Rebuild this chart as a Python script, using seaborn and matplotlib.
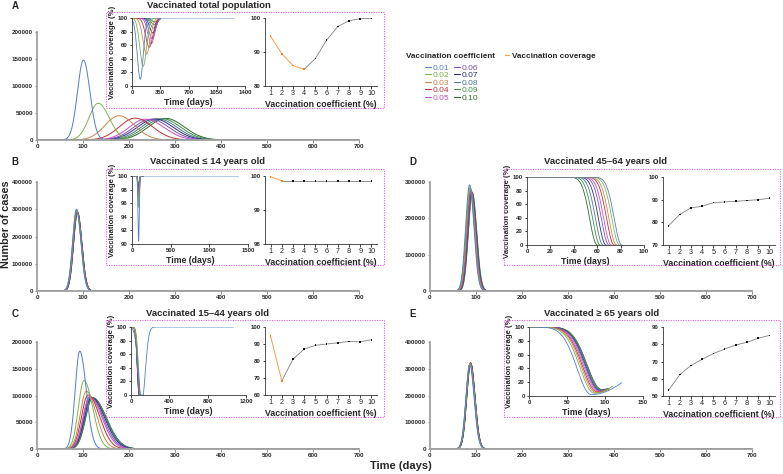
import numpy as np
import pandas as pd
import matplotlib.pyplot as plt
import seaborn as sns
from matplotlib.patches import Rectangle
from matplotlib.lines import Line2D
from matplotlib.ticker import FuncFormatter

sns.set_theme(style="ticks")
plt.rcParams["font.family"] = ["Liberation Sans", "DejaVu Sans"]

W, H = 783, 474

# 疫苗接种系数与配色
COEFS = ["0.01", "0.02", "0.03", "0.04", "0.05", "0.06", "0.07", "0.08", "0.09", "0.10"]
COLORS = ["#4f7fc8", "#7fb24a", "#c8874a", "#b8333a", "#c050c8",
          "#7a52b5", "#2e2e7a", "#4d7a8f", "#3e8f4e", "#2d6b2d"]
ORANGE = "#f4a040"
COEF_PCT = [1, 2, 3, 4, 5, 6, 7, 8, 9, 10]

# ---- 主图: 病例曲线 (峰值日, 峰值病例数, 上升/下降宽度)
A_PEAK_DAY = [101, 133, 178, 213, 236, 247, 256, 264, 272, 280]
A_PEAK_CASES = [148000, 68000, 45000, 40500, 38500, 38500, 39000, 39000, 39500, 40000]
A_RISE = [13, 20, 30, 34, 36, 37, 38, 38, 38, 38]
A_FALL = [14, 24, 34, 38, 40, 40, 40, 40, 40, 40]

B_PEAK_DAY = [86, 86, 86.5, 87, 87, 87.5, 87.5, 88, 88, 88]
B_PEAK_CASES = [300000, 297000, 295000, 293000, 292000, 291000, 290000, 290000, 289000, 289000]
B_RISE = [8.5] * 10
B_FALL = [9.5] * 10

C_PEAK_DAY = [93, 102, 107, 111, 114, 116, 118, 119, 120, 121]
C_PEAK_CASES = [183000, 128000, 108000, 101000, 98000, 97000, 96500, 96000, 96000, 96000]
C_RISE = [10, 12, 13, 14, 14, 15, 15, 15, 15, 15]
C_FALL = [14, 19, 22, 25, 27, 28, 29, 30, 30, 30]

D_PEAK_DAY = [86, 87, 88, 88.5, 89, 90, 90.5, 91, 91.5, 92]
D_PEAK_CASES = [292000, 285000, 282000, 278000, 276000, 274000, 273000, 272000, 271000, 270000]
D_RISE = [8.5] * 10
D_FALL = [9.5] * 10

E_PEAK_DAY = [86.5, 87, 87, 87.5, 87.5, 88, 88, 88, 88.5, 88.5]
E_PEAK_CASES = [315000, 318000, 320000, 321000, 321000, 322000, 322000, 322000, 321000, 321000]
E_RISE = [8.5] * 10
E_FALL = [9.5] * 10

# ---- 左侧小图: 接种覆盖率低谷 (低谷日, 最低值, 左/右宽度, 结束日)
A_DIP_DAY = [102, 138, 180, 213, 238, 248, 257, 265, 272, 280]
A_DIP_LOW = [10, 29, 47, 57, 62, 70, 78, 85, 90, 94]
A_DIP_LEFT = [37, 42, 45, 45, 42, 40, 38, 36, 35, 35]
A_DIP_RIGHT = [37, 42, 45, 45, 42, 40, 38, 36, 35, 35]
A_DIP_END = [1260, 340, 350, 350, 350, 350, 350, 350, 350, 350]

B_DIP_DAY = [85] * 10
B_DIP_LOW = [90.3, 95.4, 96.2, 96.8, 97.2, 97.5, 97.8, 98.0, 98.2, 98.4]
B_DIP_LEFT = [8] * 10
B_DIP_RIGHT = [9] * 10
B_DIP_END = [1380, 150, 150, 150, 150, 150, 150, 150, 150, 150]

C_DIP_DAY = [113, 100, 95, 92, 90, 88, 87, 86, 85, 85]
C_DIP_LOW = [-10, 0, 0, 0, 0, 0, 0, 0, 0, 0]
C_DIP_LEFT = [36, 22, 21, 20, 20, 19, 19, 19, 19, 19]
C_DIP_RIGHT = [36, 22, 21, 20, 20, 19, 19, 19, 19, 19]
C_DIP_END = [1070, 100, 95, 92, 90, 88, 87, 86, 85, 85]

D_DIP_DAY = [81, 79, 76.5, 74.5, 72, 70, 67.5, 65, 62.5, 60]
D_DIP_LOW = [0] * 10
D_DIP_LEFT = [6.5] * 10
D_DIP_RIGHT = [6.5] * 10
D_DIP_END = [81, 79, 76.5, 74.5, 72, 70, 67.5, 65, 62.5, 60]

E_DIP_DAY = [82, 86, 88, 89.5, 91, 92.5, 93.5, 94.5, 95, 95.5]
E_DIP_LOW = [2, 4, 5, 6, 7, 7.5, 8, 8.5, 9, 9.5]
E_DIP_LEFT = [19] * 10
E_DIP_RIGHT = [64, 50, 50, 50, 50, 50, 50, 50, 50, 50]
E_DIP_END = [122, 110, 106, 105, 105, 105, 105, 105, 105, 105]

# ---- 右侧小图: 覆盖率 vs 接种系数
A_COV = [94.6, 89.5, 86.0, 84.9, 88.1, 93.5, 97.5, 99.2, 99.8, 99.9]
B_COV = [99.98, 99.86, 99.86, 99.86, 99.86, 99.86, 99.86, 99.86, 99.86, 99.86]
C_COV = [94.5, 68.3, 81.1, 87.0, 89.2, 90.0, 90.7, 91.5, 91.3, 92.5]
D_COV = [78.5, 83.5, 86.4, 87.1, 88.7, 89.0, 89.3, 89.6, 90.0, 90.6]
E_COV = [53.3, 62.4, 67.7, 71.3, 74.6, 77.2, 79.6, 81.1, 83.5, 85.1]


def px_axes(fig, x0, y0, x1, y1):
    return fig.add_axes([x0 / W, 1 - y1 / H, (x1 - x0) / W, (y1 - y0) / H])


def epi_frame(peak_day, peak_cases, rise, fall):
    t = np.arange(0, 701, 1.0)
    rows = []
    for c, d, n, r, f in zip(COEFS, peak_day, peak_cases, rise, fall):
        s = np.where(t < d, r, f)
        rows.append(pd.DataFrame({"day": t, "cases": n * np.exp(-0.5 * ((t - d) / s) ** 2), "coef": c}))
    return pd.concat(rows, ignore_index=True)


def dip_frame(day, low, left, right, end):
    rows = []
    for c, d, lo, sl, sr, e in zip(COEFS, day, low, left, right, end):
        t = np.linspace(0, e, 400)
        s = np.where(t < d, sl, sr)
        v = np.clip(100 - (100 - lo) * np.exp(-0.5 * ((t - d) / s) ** 2), 0, 100)
        rows.append(pd.DataFrame({"day": t, "cov": v, "coef": c}))
    return pd.concat(rows, ignore_index=True)


def bold_ticks(ax, size):
    ax.tick_params(labelsize=size, length=1.8, width=0.6, pad=1.2)
    for lab in ax.get_xticklabels() + ax.get_yticklabels():
        lab.set_fontweight("bold")


def main_panel(fig, rect, df, ymax, ystep):
    ax = px_axes(fig, *rect)
    sns.lineplot(data=df, x="day", y="cases", hue="coef", hue_order=COEFS[::-1],
                 palette=dict(zip(COEFS, COLORS)), legend=False, lw=0.7,
                 estimator=None, sort=False, ax=ax)
    ax.set_xlim(0, 700)
    ax.set_ylim(0, ymax)
    ax.set_xticks(range(0, 701, 100))
    ax.set_yticks(range(0, ymax + 1, ystep))
    ax.yaxis.set_major_formatter(FuncFormatter(lambda v, p: f"{int(v)}"))
    ax.set_xlabel("")
    ax.set_ylabel("")
    sns.despine(ax=ax)
    for sp in ["left", "bottom"]:
        ax.spines[sp].set_color("#a0a0a0")
        ax.spines[sp].set_linewidth(1.3)
    bold_ticks(ax, 4.5)
    ax.tick_params(color="#777777")
    return ax


def coverage_inset(fig, rect, df, xmax, xstep, ylo, ystep):
    ax = px_axes(fig, *rect)
    sns.lineplot(data=df, x="day", y="cov", hue="coef", hue_order=COEFS[::-1],
                 palette=dict(zip(COEFS, COLORS)), legend=False, lw=0.6,
                 estimator=None, sort=False, ax=ax)
    ax.set_xlim(0, xmax)
    ax.set_ylim(ylo, 100)
    ax.set_xticks(np.arange(0, xmax + 1, xstep))
    ax.set_yticks(np.arange(ylo, 101, ystep))
    ax.set_xlabel("Time (days)", fontsize=6.3, fontweight="bold", labelpad=1.8)
    ax.set_ylabel("Vaccination coverage (%)", fontsize=5.6, fontweight="bold", labelpad=1)
    sns.despine(ax=ax)
    for sp in ["left", "bottom"]:
        ax.spines[sp].set_linewidth(0.6)
        ax.spines[sp].set_color("#333333")
    bold_ticks(ax, 4.3)
    return ax


def coef_inset(fig, rect, cov, n_orange, ylo, yhi, ystep):
    ax = px_axes(fig, *rect)
    df = pd.DataFrame({"coef": COEF_PCT, "cov": cov})
    k = max(n_orange, 1)
    sns.lineplot(data=df.iloc[k - 1:], x="coef", y="cov", color="#808080", lw=0.6, ax=ax)
    if n_orange:
        sns.lineplot(data=df.iloc[:n_orange], x="coef", y="cov", color=ORANGE, lw=0.7, ax=ax)
    mk = ["#f08a20"] * n_orange + ["#111111"] * (10 - n_orange)
    ax.scatter(df["coef"], df["cov"], marker="s", s=1.6, c=mk, zorder=3, linewidths=0)
    ax.set_xlim(0.5, 10.5)
    ax.set_ylim(ylo, yhi)
    ax.set_xticks(COEF_PCT)
    ax.set_yticks(np.arange(ylo, yhi + 0.01, ystep))
    ax.yaxis.set_major_formatter(FuncFormatter(lambda v, p: f"{v:g}"))
    ax.set_xlabel("Vaccination coefficient (%)", fontsize=6.3, fontweight="bold", labelpad=1.8)
    ax.set_ylabel("")
    sns.despine(ax=ax)
    for sp in ["left", "bottom"]:
        ax.spines[sp].set_linewidth(0.6)
        ax.spines[sp].set_color("#333333")
    bold_ticks(ax, 4.3)
    ax.tick_params(axis="x", labelsize=5.2)
    for lab in ax.get_xticklabels():
        lab.set_fontweight("normal")
    return ax


def dotted_box(fig, x0, y0, x1, y1):
    fig.patches.append(Rectangle((x0 / W, 1 - y1 / H), (x1 - x0) / W, (y1 - y0) / H,
                                 transform=fig.transFigure, fill=False, ls=(0, (1, 1.2)),
                                 lw=0.8, ec="#e060e0"))


def ftext(fig, x, y, s, **kw):
    fig.text(x / W, 1 - y / H, s, **kw)


fig = plt.figure(figsize=(W / 100, H / 100), dpi=100)

# 主图
main_panel(fig, (37, 32, 359, 140), epi_frame(A_PEAK_DAY, A_PEAK_CASES, A_RISE, A_FALL), 200000, 50000)
main_panel(fig, (37, 182, 359, 291), epi_frame(B_PEAK_DAY, B_PEAK_CASES, B_RISE, B_FALL), 400000, 100000)
main_panel(fig, (37, 342, 359, 449), epi_frame(C_PEAK_DAY, C_PEAK_CASES, C_RISE, C_FALL), 200000, 50000)
main_panel(fig, (430, 182, 752, 291), epi_frame(D_PEAK_DAY, D_PEAK_CASES, D_RISE, D_FALL), 300000, 100000)
main_panel(fig, (430, 342, 752, 449), epi_frame(E_PEAK_DAY, E_PEAK_CASES, E_RISE, E_FALL), 400000, 100000)

# 小图
dotted_box(fig, 106, 12, 384, 108)
dotted_box(fig, 106, 169, 384, 265)
dotted_box(fig, 106, 320, 384, 417)
dotted_box(fig, 504, 169, 780, 265)
dotted_box(fig, 504, 320, 780, 417)

coverage_inset(fig, (132, 18, 245, 86), dip_frame(A_DIP_DAY, A_DIP_LOW, A_DIP_LEFT, A_DIP_RIGHT, A_DIP_END), 1400, 350, 0, 20)
coverage_inset(fig, (132, 176, 248, 244), dip_frame(B_DIP_DAY, B_DIP_LOW, B_DIP_LEFT, B_DIP_RIGHT, B_DIP_END), 1500, 500, 90, 2)
coverage_inset(fig, (131, 327, 246, 395), dip_frame(C_DIP_DAY, C_DIP_LOW, C_DIP_LEFT, C_DIP_RIGHT, C_DIP_END), 1200, 400, 0, 20)
coverage_inset(fig, (527, 177, 644, 245), dip_frame(D_DIP_DAY, D_DIP_LOW, D_DIP_LEFT, D_DIP_RIGHT, D_DIP_END), 100, 20, 0, 20)
coverage_inset(fig, (529, 327, 643, 396), dip_frame(E_DIP_DAY, E_DIP_LOW, E_DIP_LEFT, E_DIP_RIGHT, E_DIP_END), 150, 50, 0, 20)

coef_inset(fig, (265, 18, 377, 86), A_COV, 4, 80, 100, 10)
coef_inset(fig, (265, 176, 377, 244), B_COV, 2, 98, 100, 1)
coef_inset(fig, (265, 327, 377, 395), C_COV, 2, 60, 100, 10)
coef_inset(fig, (663, 177, 775, 245), D_COV, 0, 70, 100, 10)
coef_inset(fig, (663, 327, 775, 396), E_COV, 0, 50, 90, 10)

# 标题与标签
tkw = dict(fontsize=6.8, fontweight="bold", ha="center", va="center")
lkw = dict(fontsize=7, fontweight="bold", ha="center", va="center")
ftext(fig, 209, 6, "Vaccinated total population", **tkw)
ftext(fig, 207, 162, "Vaccinated \u2264 14 years old", **tkw)
ftext(fig, 208, 314, "Vaccinated 15\u201344 years old", **tkw)
ftext(fig, 606, 162, "Vaccinated 45\u201364 years old", **tkw)
ftext(fig, 602, 314, "Vaccinated \u2265 65 years old", **tkw)
ftext(fig, 15, 6, "A", **lkw)
ftext(fig, 15, 162, "B", **lkw)
ftext(fig, 15, 314, "C", **lkw)
ftext(fig, 413, 162, "D", **lkw)
ftext(fig, 413, 314, "E", **lkw)
ftext(fig, 6.5, 224, "Number of cases", fontsize=7.8, fontweight="bold", rotation=90, ha="center", va="center")
ftext(fig, 401, 466, "Time (days)", fontsize=8, fontweight="bold", ha="center", va="center")

# 图例
ftext(fig, 451, 56, "Vaccination coefficient", fontsize=5.9, fontweight="bold", ha="center", va="center")
handles = [Line2D([], [], color=c, lw=0.8) for c in COLORS]
leg = fig.legend(handles, COEFS, ncol=2, loc="upper left",
                 bbox_to_anchor=(425 / W, 1 - 64 / H), frameon=False, labelcolor="linecolor",
                 fontsize=6, handlelength=0.7, handletextpad=0.25, columnspacing=0.5,
                 labelspacing=-0.05, borderpad=0, borderaxespad=0)
leg2 = fig.legend([Line2D([], [], color=ORANGE, lw=0.8)], ["Vaccination coverage"], loc="center left",
                  bbox_to_anchor=(505 / W, 1 - 56 / H), frameon=False, handlelength=0.5,
                  handletextpad=0.4, borderpad=0, borderaxespad=0,
                  prop={"weight": "bold", "size": 5.9})

fig.savefig("out.png", dpi=100)
